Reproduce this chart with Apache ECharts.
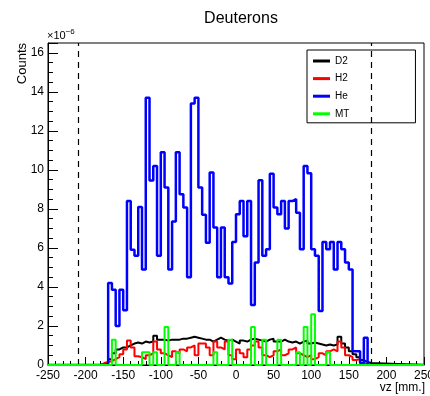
<!DOCTYPE html>
<html><head><meta charset="utf-8">
<script src="https://cdn.jsdelivr.net/npm/echarts@6/dist/echarts.min.js"></script>
<style>html,body{margin:0;padding:0;background:#fff}#c{width:430px;height:396px}</style>
</head><body><div id="c"></div>
<script>
// ---- data ----
const chartTitle = 'Deuterons';
const xTitle = 'vz [mm.]';
const yTitle = 'Counts';
const seriesNames = ['D2', 'H2', 'He', 'MT'];
const seriesColors = ['#000000', '#ff0000', '#0000ff', '#00ff00'];
const firstBinLow = -180;   // lower edge of first listed bin (mm)
const binWidth = 5;         // mm
const xRange = [-250, 250];
const cutLines = [-210, 180];
// values in units of 1e-6, bins from -180 to 175 (lower edges)
const d2 = [0.05,0.15,0.3,0.6,0.8,0.9,0.9,1.0,1.1,1.15,1.1,1.2,1.15,1.2,1.5,1.3,1.3,1.25,1.3,1.3,1.3,1.35,1.35,1.4,1.45,1.4,1.35,1.3,1.3,1.2,1.3,1.4,1.3,1.25,1.3,1.2,
            1.1,1.25,1.2,1.3,1.35,1.3,1.25,1.2,1.3,1.35,1.2,1.2,1.3,1.2,1.15,1.2,1.1,1.2,1.25,1.1,1.15,1.1,1.05,1.0,1.05,1.0,1.05,1.45,1.1,0.9,0.7,0.55,0.4,0.25,0.15,0.1];
const h2 = [0.1,0.15,0.2,0.3,0.4,0.55,0.8,1.25,0.9,0.45,0.4,0.3,0.5,0.6,1.2,0.8,0.6,0.5,0.4,0.7,0.6,0.8,0.7,0.9,1.0,0.5,1.1,1.1,0.9,0.5,1.2,0.9,0.8,1.2,0.5,0.3,
            0.8,0.6,0.4,0.8,1.0,1.2,0.9,0.5,0.4,0.5,0.7,0.8,0.5,0.6,0.8,0.9,0.6,0.5,0.4,0.5,0.3,0.4,0.6,0.5,0.7,0.8,0.7,1.2,0.9,0.5,0.4,0.25,0.3,0.1,0.05,0];
const he = [0,0,4.2,3.85,2.0,3.85,2.8,8.4,5.9,5.6,8.1,4.9,13.7,9.45,10.2,5.6,10.9,9.1,4.9,7.35,10.9,8.75,8.07,4.5,13.4,13.7,9.1,7.7,6.27,9.86,7.04,4.5,7.04,4.5,4.17,6.3,
            7.73,8.4,6.6,8.4,3.08,5.25,9.47,5.6,5.93,9.8,8.07,7.73,8.4,7.0,8.4,8.5,7.8,5.93,10.2,9.83,5.93,5.6,2.77,6.3,5.93,6.3,4.9,6.3,5.93,5.25,4.9,0.7,0.7,0.1,1.4,0];
const mt = [0,0,0,1.3,0,0,0,0,0,0,0,0.65,0.65,0,0.65,0,0,1.95,0,0,0.65,0,0,0,0,0,0,0,0,0,0.65,0,0,0,1.3,0,
            0,0,0,0,1.95,0,0,1.3,0,0,0,1.3,0,0,0,0,0.65,0,1.95,0,2.6,0,0,0,0.65,0,0,0,0,0,0,0,0,0,0,0];
const yMax = 16.5;

// ---- build step outlines (ROOT-like histogram) ----
function histPoints(vals) {
  const pts = [[xRange[0], 0]];
  vals.forEach((v, i) => pts.push([firstBinLow + i * binWidth, v]));
  pts.push([firstBinLow + vals.length * binWidth, 0]);
  pts.push([xRange[1], 0]);
  return pts;
}
const allVals = [d2, h2, he, mt];
const FONT = "'Liberation Sans', Arial, Helvetica, sans-serif";

const chart = echarts.init(document.getElementById('c'), null, {renderer: 'canvas'});
const series = allVals.map((vals, k) => ({
  name: seriesNames[k],
  type: 'line',
  step: 'end',
  data: histPoints(vals),
  showSymbol: false,
  symbol: 'none',
  clip: true,
  z: 2 + k,
  lineStyle: {color: seriesColors[k], width: k === 2 ? 2.5 : 2},
  itemStyle: {color: seriesColors[k]},
  animation: false
}));
series.push({
  name: 'cuts', type: 'line', data: [], z: 1,
  markLine: {
    silent: true, symbol: 'none', animation: false,
    label: {show: false},
    lineStyle: {color: '#000', type: [6, 5], width: 1.2},
    data: cutLines.map(x => ({xAxis: x}))
  }
});

chart.setOption({
  animation: false,
  backgroundColor: '#fff',
  title: {
    text: chartTitle, left: 236, top: 6, textAlign: 'center',
    textStyle: {fontFamily: FONT, fontSize: 16, fontWeight: 'normal', color: '#000'}
  },
  grid: {left: 48, right: 6, top: 43, bottom: 31, containLabel: false, outerBoundsMode: 'none',
         show: true, borderColor: '#000', borderWidth: 1, backgroundColor: 'transparent'},
  legend: {
    orient: 'vertical', left: 307, top: 50,
    data: seriesNames,
    icon: 'rect', itemWidth: 17, itemHeight: 3, itemGap: 7.6,
    padding: [6, 66, 4, 6],
    backgroundColor: '#fff', borderColor: '#000', borderWidth: 1,
    textStyle: {fontFamily: FONT, fontSize: 10, color: '#000'},
    selectedMode: false
  },
  xAxis: {
    type: 'value', min: xRange[0], max: xRange[1], interval: 50,
    axisLine: {show: true, onZero: false, lineStyle: {color: '#000', width: 1}},
    axisTick: {show: true, inside: true, length: 8, lineStyle: {color: '#000'}},
    minorTick: {show: true, splitNumber: 5, length: 4, lineStyle: {color: '#000'}},
    splitLine: {show: false},
    axisLabel: {fontFamily: FONT, fontSize: 12, color: '#000', margin: 5, hideOverlap: false},
  },
  yAxis: {
    type: 'value', min: 0, max: yMax, interval: 2,
    axisLine: {show: true, onZero: false, lineStyle: {color: '#000', width: 1}},
    axisTick: {show: true, inside: true, length: 10, lineStyle: {color: '#000'}},
    minorTick: {show: true, splitNumber: 4, length: 5, lineStyle: {color: '#000'}},
    splitLine: {show: false},
    axisLabel: {fontFamily: FONT, fontSize: 12, color: '#000', margin: 4,
      formatter: v => (Math.abs(v % 2) < 1e-9 ? String(v) : '')}
  },
  graphic: [
    {type: 'text', left: 47, top: 28, style: {
      text: '×10{s|−6}', fontFamily: FONT, fontSize: 11, fill: '#000',
      rich: {s: {fontSize: 8, verticalAlign: 'top', padding: [0, 0, 8, 0], fontFamily: FONT}}
    }},
    {type: 'text', x: 16, y: 43, rotation: Math.PI / 2, style: {
      text: yTitle, fontFamily: FONT, fontSize: 13, fill: '#000', align: 'right', verticalAlign: 'top'
    }},
    {type: 'text', right: 5, top: 382, style: {
      text: xTitle, fontFamily: FONT, fontSize: 12, fill: '#000'
    }}
  ],
  series: series
});
</script></body></html>
